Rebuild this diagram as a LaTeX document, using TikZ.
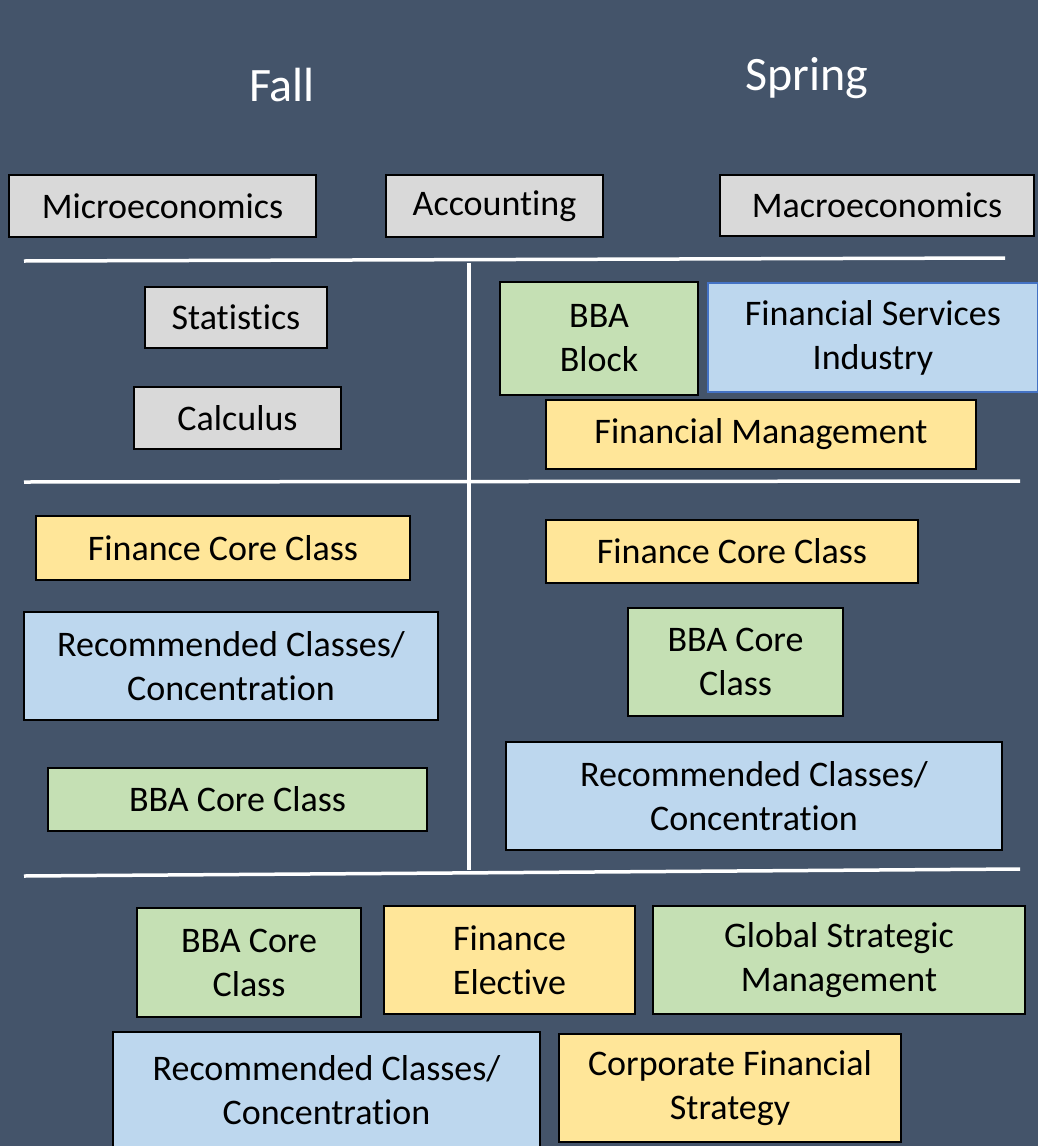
\documentclass[tikz,border=0pt]{standalone}
\usepackage{fontspec}
\setmainfont[Ligatures=NoCommon,RawFeature={-liga;-dlig}]{Carlito}
\definecolor{bg}{HTML}{44546A}
\definecolor{cgray}{HTML}{D9D9D9}
\definecolor{cgreen}{HTML}{C5E0B4}
\definecolor{cyellow}{HTML}{FFE699}
\definecolor{cblue}{HTML}{BDD7EE}
\definecolor{cblueline}{HTML}{4472C4}
\begin{document}
\begin{tikzpicture}[x=1pt,y=-1pt,
  box/.style={draw=black,line width=2pt,rectangle,inner sep=0pt,align=center,text=black,
    font=\fontsize{36}{44}\selectfont},
  graybox/.style={box,fill=cgray},
  greenbox/.style={box,fill=cgreen},
  yellowbox/.style={box,fill=cyellow},
  bluebox/.style={box,fill=cblue},
  season/.style={text=white,font=\fontsize{48}{56}\selectfont},
  sep/.style={draw=white,line width=3.5pt}]
\fill[bg] (0,0) rectangle (1038,1146);
\useasboundingbox (0,0) rectangle (1038,1146);

\node[season] (fall) at (282,85) {Fall};
\node[season] (spring) at (807,78) {Spring};

\node[graybox,minimum width=307,minimum height=62] (micro) at (162.5,206) {Microeconomics};
\node[graybox,minimum width=217,minimum height=62] (acct) at (494.5,206) {Accounting};
\node[graybox,minimum width=314,minimum height=61] (macro) at (877,205.5) {Macroeconomics};

\coordinate (h1a) at (24,261); \coordinate (h1b) at (1005,258);
\coordinate (va) at (469,263); \coordinate (vb) at (469,870);
\coordinate (h2a) at (24,482); \coordinate (h2b) at (1020,481);
\coordinate (h3a) at (24,876); \coordinate (h3b) at (1020,869);
\draw[sep] (h1a) -- (h1b);
\draw[sep] (va) -- (vb);
\draw[sep] (h2a) -- (h2b);
\draw[sep] (h3a) -- (h3b);

\node[graybox,minimum width=182,minimum height=61] (stats) at (236,317.5) {Statistics};
\node[graybox,minimum width=207,minimum height=62] (calc) at (237.5,418) {Calculus};
\node[greenbox,minimum width=198,minimum height=113] (bbablock) at (599,338.5) {BBA\\Block};
\node[bluebox,draw=cblueline,minimum width=330,minimum height=109] (fsi) at (873,337.5) {Financial Services\\Industry};
\node[yellowbox,minimum width=430,minimum height=69] (fm) at (761,434.5) {Financial Management};

\node[yellowbox,minimum width=374,minimum height=64] (fcc1) at (223,548) {Finance Core Class};
\node[bluebox,minimum width=414,minimum height=108] (rec1) at (231,666) {Recommended Classes/\\Concentration};
\node[greenbox,minimum width=379,minimum height=63] (bcc1) at (237.5,799.5) {BBA Core Class};

\node[yellowbox,minimum width=372,minimum height=63] (fcc2) at (732,551.5) {Finance Core Class};
\node[greenbox,minimum width=215,minimum height=108] (bcc2) at (735.5,662) {BBA Core\\Class};
\node[bluebox,minimum width=496,minimum height=108] (rec2) at (754,796) {Recommended Classes/\\Concentration};

\node[greenbox,minimum width=224,minimum height=109] (bcc3) at (249,962.5) {BBA Core\\Class};
\node[yellowbox,minimum width=251,minimum height=108] (fe) at (509.5,960) {Finance\\Elective};
\node[greenbox,minimum width=372,minimum height=108] (gsm) at (839,960) {Global Strategic\\Management};
\node[bluebox,minimum width=427,minimum height=116] (rec3) at (326.5,1090) {Recommended Classes/\\Concentration};
\node[yellowbox,minimum width=342,minimum height=108] (cfs) at (730,1088) {Corporate Financial\\Strategy};
\end{tikzpicture}
\end{document}
